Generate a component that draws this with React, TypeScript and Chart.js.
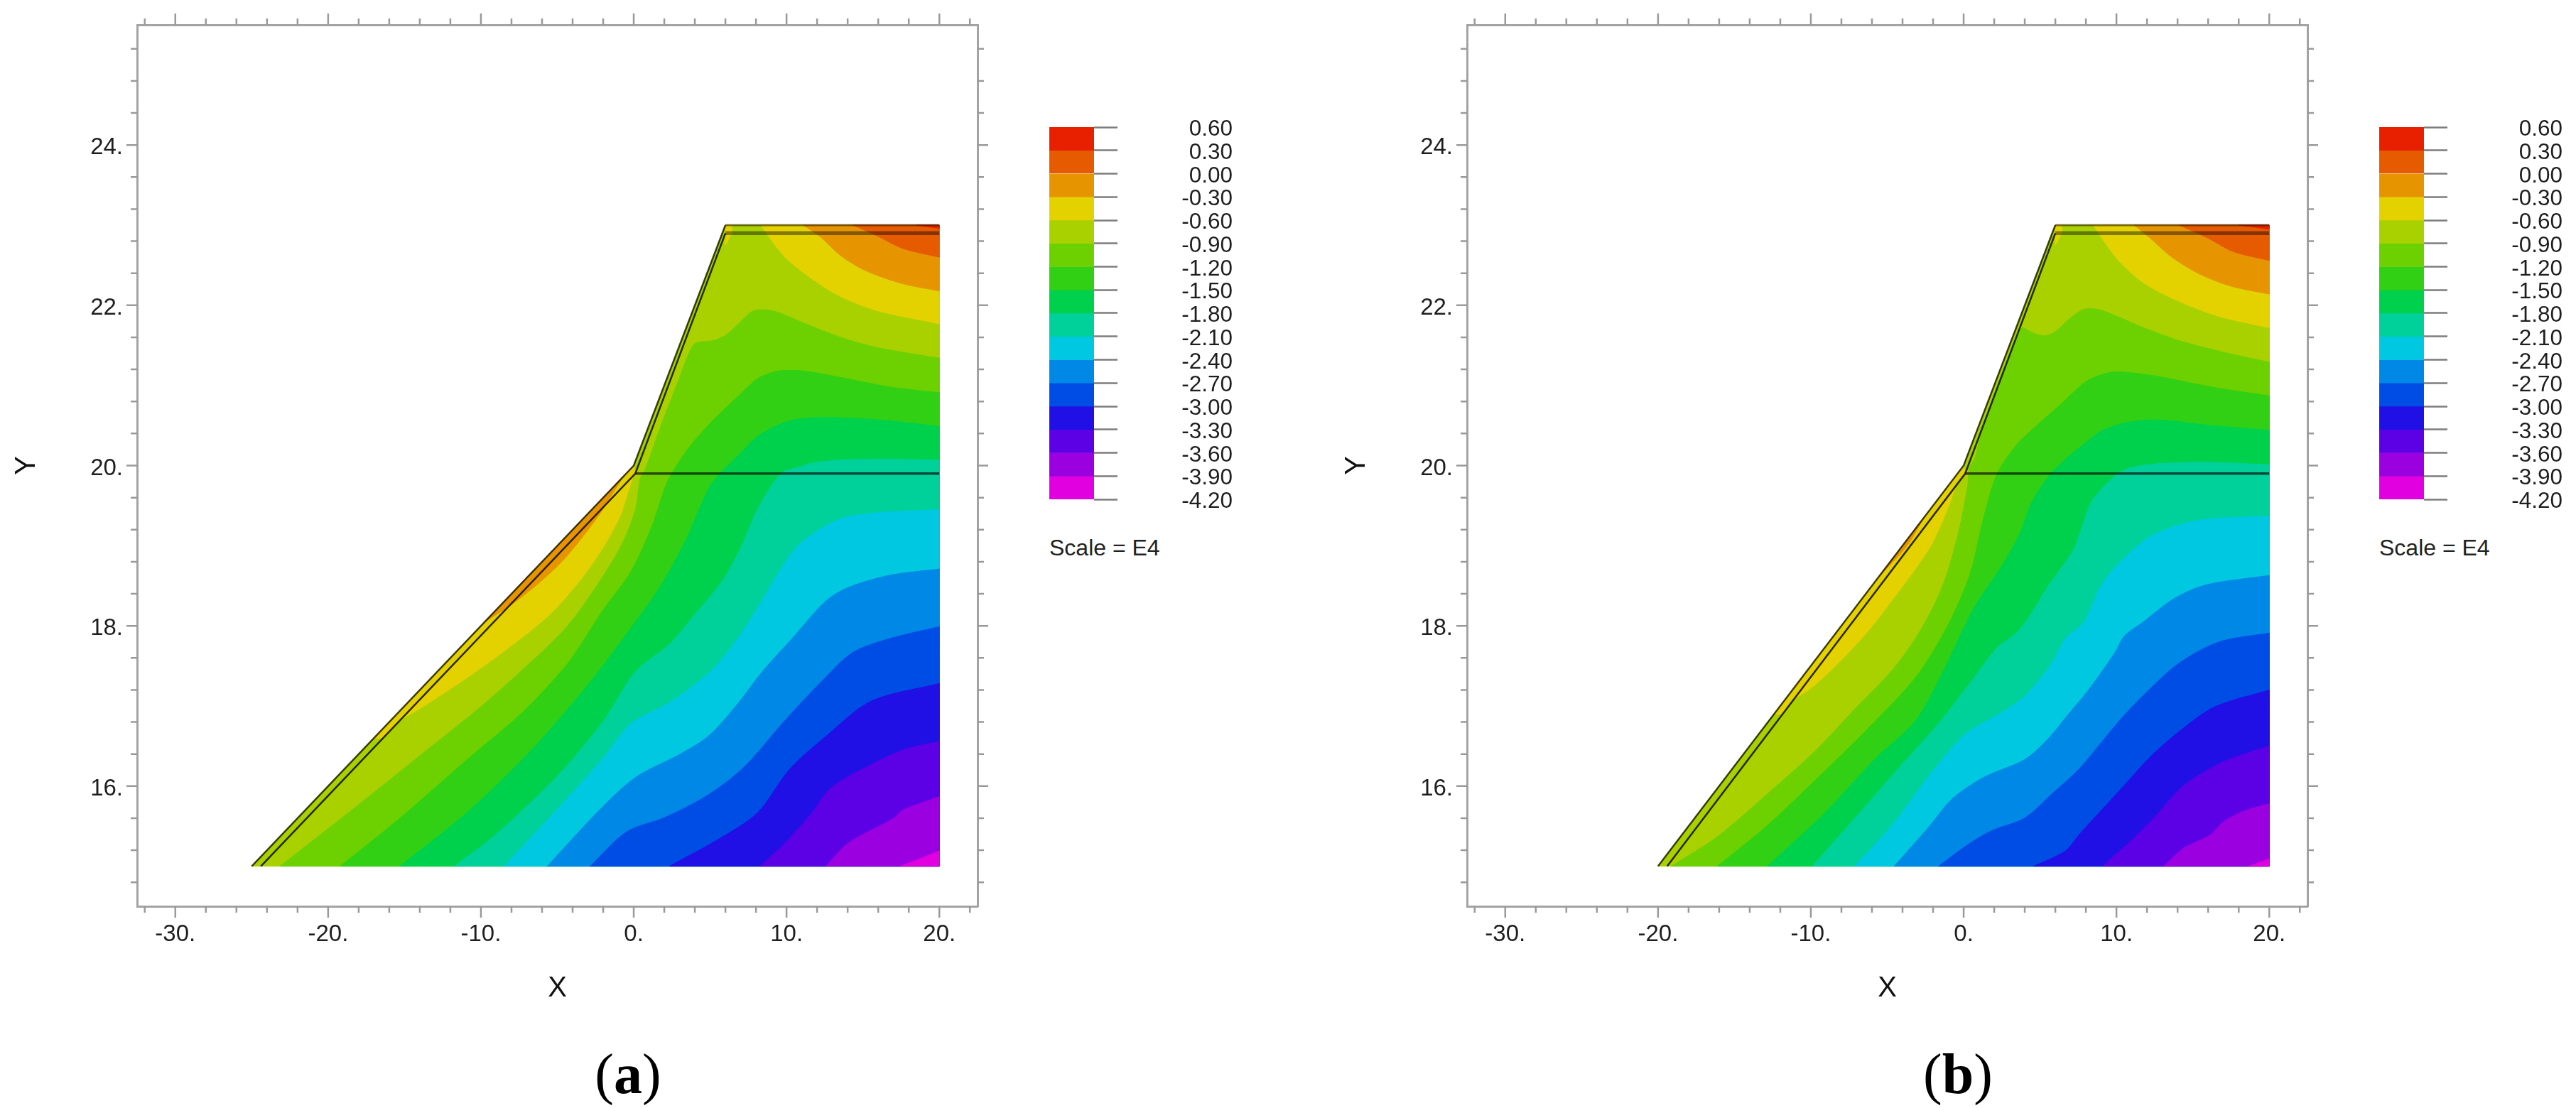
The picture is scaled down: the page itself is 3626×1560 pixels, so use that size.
import { useEffect, useRef } from "react"
import { Chart, registerables } from "chart.js"

Chart.register(...registerables)

type Pt = number[]

// axes
const xTicks = [-32, -30, -28, -26, -24, -22, -20, -18, -16, -14, -12, -10, -8, -6, -4, -2, 0, 2, 4, 6, 8, 10, 12, 14, 16, 18, 20, 22]
const xMajor = [-30, -20, -10, 0, 10, 20]
const yTicks = [14.8, 15.2, 15.6, 16, 16.4, 16.8, 17.2, 17.6, 18, 18.4, 18.8, 19.2, 19.6, 20, 20.4, 20.8, 21.2, 21.6, 22, 22.4, 22.8, 23.2, 23.6, 24, 24.4, 24.8, 25.2]
const yMajor = [16, 18, 20, 22, 24]

// legend
const levels = [0.6, 0.3, 0, -0.3, -0.6, -0.9, -1.2, -1.5, -1.8, -2.1, -2.4, -2.7, -3, -3.3, -3.6, -3.9, -4.2]
const bandColors = ["#e82000", "#e65a00", "#e69500", "#e4d200", "#a9d100", "#6dd000", "#32d014", "#00d14c", "#00d09a", "#00c8e0", "#0088e6", "#004de6", "#2010e6", "#5c00e6", "#9a00e0", "#e000e0"]

// panel (a) contours in x/y units
const aDomain: Pt[] = [[-25, 15], [0, 20], [6, 23], [20, 23], [20, 15]]
const aOuter: Pt[] = [[-25, 15], [0, 20], [6, 23]]
const aInner: Pt[] = [[-24.4, 15], [0.1, 19.9], [6, 22.9]]
const aStripYellow: Pt[] = [[-17, 16.6], [0, 20], [0.1, 19.9], [-16.4, 16.6]]
const aCrestYellow: Pt[] = [[6, 23], [6.4, 23], [6.4, 22.9], [6, 22.75]]
const aStripOrange: Pt[] = [[-10, 18], [-1, 19.8], [-0.9, 19.72], [-9.4, 18]]
const aSlopeYellow: Pt[] = [[-16.63, 16.67], [-13.82, 16.99], [-10.85, 17.36], [-7.89, 17.77], [-5.51, 18.14], [-3.59, 18.55], [-2.1, 18.95], [-0.92, 19.36], [-0.33, 19.7], [0, 19.9], [0, 20]]
const aSlopeOrange: Pt[] = [[-9.81, 18.04], [-7.89, 18.28], [-6.11, 18.55], [-4.62, 18.82], [-3.14, 19.16], [-2.1, 19.43], [-1.22, 19.7], [-0.6, 19.88]]
const aTop1: Pt[] = [[18.5, 23], [20, 22.96]]
const aTop2: Pt[] = [[14.36, 23], [16, 22.86], [17.6, 22.71], [20, 22.6]]
const aTop3: Pt[] = [[11.1, 23], [12.24, 22.85], [13.54, 22.62], [15.2, 22.43], [17.6, 22.27], [20, 22.18]]
const aTop4: Pt[] = [[8.33, 23], [8.98, 22.82], [9.96, 22.59], [11.59, 22.34], [13.54, 22.11], [16, 21.93], [20, 21.77]]
const aC5: Pt[] = [[20, 21.34], [16, 21.47], [13.54, 21.6], [11.1, 21.78], [9.14, 21.93], [7.83, 21.93], [6.86, 21.77], [6.04, 21.63], [5.22, 21.56], [4.08, 21.53], [3.67, 21.43], [2.94, 21.07], [1.8, 20.51], [0.74, 19.95], [0.42, 19.84], [0.12, 19.46], [-0.77, 19.02], [-2.25, 18.55], [-4.33, 18], [-7, 17.5], [-10.26, 16.95], [-13.8, 16.41], [-18.26, 15.73], [-23.15, 15]]
const aC6: Pt[] = [[20, 20.91], [16.8, 20.98], [13.54, 21.1], [11.1, 21.18], [9.46, 21.18], [8.16, 21.09], [6.86, 20.87], [5.06, 20.54], [3.59, 20.22], [2.45, 19.89], [2.05, 19.73], [1.16, 19.23], [-0.18, 18.68], [-1.96, 18.21], [-4.33, 17.53], [-7.29, 16.92], [-10.85, 16.34], [-15.3, 15.6], [-19.21, 15]]
const aC7: Pt[] = [[20, 20.49], [16, 20.57], [12.4, 20.6], [10.44, 20.57], [9.14, 20.48], [8, 20.35], [6.86, 20.13], [5.63, 19.9], [4.86, 19.7], [3.38, 19.06], [1.6, 18.45], [-0.47, 17.9], [-3.14, 17.23], [-6.7, 16.45], [-10.85, 15.68], [-15.3, 15]]
const aC8: Pt[] = [[20, 20.07], [14.7, 20.08], [11.9, 20.04], [10.8, 19.98], [9.63, 19.9], [8.12, 19.46], [6.94, 18.95], [5.75, 18.55], [3.68, 18.07], [2.34, 17.77], [0.12, 17.43], [-1.96, 16.82], [-4.92, 16.14], [-9.07, 15.39], [-11.74, 15]]
const aC9: Pt[] = [[20, 19.45], [15.83, 19.41], [13.46, 19.33], [11.09, 19.06], [9.9, 18.79], [7.83, 18.14], [6.64, 17.8], [5.01, 17.43], [2.49, 17.06], [-0.18, 16.78], [-1.96, 16.36], [-4.92, 15.73], [-8.48, 15]]
const aC10: Pt[] = [[20, 18.71], [16.72, 18.63], [14.05, 18.48], [12.57, 18.31], [10.35, 17.84], [8.42, 17.43], [6.64, 16.99], [4.86, 16.62], [2.94, 16.39], [0.12, 16.11], [-2.25, 15.7], [-5.66, 15]]
const aC11: Pt[] = [[20, 17.99], [16.72, 17.84], [14.35, 17.67], [12.57, 17.36], [9.9, 16.82], [7.23, 16.24], [4.86, 15.89], [2.05, 15.61], [-0.47, 15.43], [-2.85, 15]]
const aC12: Pt[] = [[20, 17.28], [15.54, 17.06], [12.57, 16.62], [10.2, 16.21], [8.12, 15.67], [5.75, 15.36], [2.34, 15]]
const aC13: Pt[] = [[20, 16.56], [17.61, 16.45], [14.94, 16.21], [12.87, 15.97], [11.68, 15.67], [9.9, 15.29], [8.27, 15]]
const aC14: Pt[] = [[20, 15.87], [17.61, 15.7], [17.02, 15.6], [14.05, 15.29], [12.57, 15]]
const aC15: Pt[] = [[20, 15.19], [17.46, 15]]

// panel (b) contours
const bDomain: Pt[] = [[-20, 15], [0, 20], [6, 23], [20, 23], [20, 15]]
const bOuter: Pt[] = [[-20, 15], [0, 20], [6, 23]]
const bInner: Pt[] = [[-19.4, 15], [0.1, 19.9], [6, 22.9]]
const bStripYellow: Pt[] = [[-12.4, 16.9], [0, 20], [0.1, 19.9], [-11.9, 16.9]]
const bCrestYellow: Pt[] = [[6, 23], [6.4, 23], [6.4, 22.9], [6, 22.75]]
const bStripOrange: Pt[] = [[-6, 18.5], [-2, 19.5], [-1.9, 19.42], [-5.6, 18.5]]
const bSlopeYellow: Pt[] = [[-12.17, 16.96], [-9.95, 17.23], [-7.87, 17.6], [-6.1, 17.97], [-4.61, 18.34], [-3.13, 18.72], [-2.09, 19.02], [-1.05, 19.46], [-0.46, 19.77], [-0.05, 19.94], [0, 20]]
const bSlopeOrange: Pt[] = [[-5.5, 18.62], [-3.7, 19], [-2.6, 19.35]]
const bTop1: Pt[] = [[18, 23], [20, 22.95]]
const bTop2: Pt[] = [[14.1, 23], [15.87, 22.85], [17.65, 22.67], [20, 22.56]]
const bTop3: Pt[] = [[11.16, 23], [12.14, 22.85], [13.56, 22.61], [15.34, 22.4], [17.47, 22.24], [20, 22.14]]
const bTop4: Pt[] = [[8.49, 23], [9.11, 22.82], [10.18, 22.55], [11.78, 22.28], [14.09, 22.05], [16.76, 21.86], [20, 21.72]]
const bC5: Pt[] = [[20, 21.29], [17.12, 21.41], [14.09, 21.56], [11.78, 21.72], [9.82, 21.88], [8.76, 21.95], [7.87, 21.95], [6.98, 21.84], [5.91, 21.66], [5.2, 21.62], [4.49, 21.66], [3.78, 21.71], [1.2, 20.45], [0.75, 20.1], [0.37, 19.97], [0.28, 19.77], [-0.31, 19.19], [-1.35, 18.51], [-2.84, 17.94], [-4.61, 17.46], [-6.98, 16.99], [-9.65, 16.45], [-12.62, 15.94], [-16.18, 15.36], [-19.14, 15]]
const bC6: Pt[] = [[20, 20.87], [16.23, 20.98], [12.49, 21.12], [10, 21.17], [8.93, 21.13], [7.87, 21.03], [6.44, 20.78], [4.66, 20.48], [3.42, 20.25], [2.17, 19.89], [1.32, 19.36], [0.42, 18.65], [-1.05, 18], [-3.13, 17.36], [-6.1, 16.75], [-9.35, 16.14], [-12.9, 15.5], [-16.12, 15]]
const bC7: Pt[] = [[20, 20.44], [16.23, 20.5], [12.67, 20.57], [10.71, 20.54], [9.11, 20.44], [7.87, 20.27], [6.62, 20.07], [5.65, 19.89], [4.43, 19.53], [3.69, 19.16], [2.5, 18.75], [0.72, 18.24], [-1.35, 17.43], [-3.13, 16.82], [-5.8, 16.34], [-9.06, 15.67], [-12.85, 15]]
const bC8: Pt[] = [[20, 20.01], [16.23, 20.04], [13.2, 20.03], [11.07, 19.98], [10.18, 19.91], [9.82, 19.86], [8.43, 19.57], [7.54, 19.12], [7.1, 18.92], [5.47, 18.48], [4.28, 18.11], [3.39, 17.9], [2.2, 17.73], [0.43, 17.29], [-1.65, 16.78], [-4.32, 16.21], [-6.98, 15.63], [-9.89, 15]]
const bC9: Pt[] = [[20, 19.37], [15.84, 19.33], [13.77, 19.24], [12, 19.09], [10.21, 18.79], [9.02, 18.51], [7.84, 18.04], [6.65, 17.84], [5.76, 17.53], [3.98, 17.12], [2.5, 16.92], [0.13, 16.65], [-1.94, 16.21], [-4.61, 15.53], [-7.13, 15]]
const bC10: Pt[] = [[20, 18.63], [15.84, 18.51], [13.77, 18.34], [11.69, 18.04], [10.5, 17.87], [9.91, 17.67], [8.13, 17.19], [6.95, 16.92], [5.47, 16.58], [3.98, 16.33], [1.32, 16.11], [-0.76, 15.84], [-2.24, 15.5], [-4.55, 15]]
const bC11: Pt[] = [[20, 17.91], [16.73, 17.8], [14.06, 17.53], [11.69, 17.12], [10.21, 16.82], [8.73, 16.48], [7.54, 16.21], [5.76, 15.9], [3.98, 15.6], [1.91, 15.45], [0.43, 15.29], [-1.65, 15]]
const bC12: Pt[] = [[20, 17.2], [16.44, 16.99], [14.36, 16.72], [12.29, 16.38], [10.8, 16.07], [9.02, 15.7], [7.54, 15.39], [6.65, 15.19], [4.58, 15]]
const bC13: Pt[] = [[20, 16.5], [18.51, 16.41], [16.73, 16.28], [14.36, 16], [12.58, 15.63], [10.8, 15.29], [9.08, 15]]
const bC14: Pt[] = [[20, 15.78], [18.51, 15.7], [17.03, 15.56], [16.14, 15.39], [14.36, 15.22], [13.09, 15]]
const bC15: Pt[] = [[20, 15.09], [18.66, 15]]

// the horizontal layer lines are the same in both panels
const layerLine: Pt[] = [[0.1, 19.9], [20, 19.9]]
const crestLine: Pt[] = [[6, 22.9], [20, 22.9]]
const topLine: Pt[] = [[6, 23], [20, 23]]

// ends and corners are doubled so the curve stays straight along the outline
const curve = (pts: Pt[]) => [pts[0], ...pts, pts[pts.length - 1]]
const under = (pts: Pt[]) => [...curve(pts), [20, 15], [20, 15]]
const over = (pts: Pt[]) => [...curve(pts), [20, 23], [20, 23]]
const toXY = (pts: Pt[]) => pts.map(([x, y]) => ({ x, y }))

// painted back to front: points, colour index, tension
const aBands: [Pt[], number, number][] = [
  [aDomain, 4, 0], [aStripYellow, 3, 0], [aCrestYellow, 3, 0], [aStripOrange, 2, 0], [curve(aSlopeYellow), 3, 0.3], [curve(aSlopeOrange), 2, 0.3],
  [over(aTop4), 3, 0.3], [over(aTop3), 2, 0.3], [over(aTop2), 1, 0.3], [over(aTop1), 0, 0],
  [under(aC5), 5, 0.3], [under(aC6), 6, 0.3], [under(aC7), 7, 0.3], [under(aC8), 8, 0.3], [under(aC9), 9, 0.3], [under(aC10), 10, 0.3],
  [under(aC11), 11, 0.3], [under(aC12), 12, 0.3], [under(aC13), 13, 0.3], [under(aC14), 14, 0.3], [under(aC15), 15, 0],
]
const bBands: [Pt[], number, number][] = [
  [bDomain, 4, 0], [bStripYellow, 3, 0], [bCrestYellow, 3, 0], [bStripOrange, 2, 0], [curve(bSlopeYellow), 3, 0.3], [curve(bSlopeOrange), 2, 0.3],
  [over(bTop4), 3, 0.3], [over(bTop3), 2, 0.3], [over(bTop2), 1, 0.3], [over(bTop1), 0, 0],
  [under(bC5), 5, 0.3], [under(bC6), 6, 0.3], [under(bC7), 7, 0.3], [under(bC8), 8, 0.3], [under(bC9), 9, 0.3], [under(bC10), 10, 0.3],
  [under(bC11), 11, 0.3], [under(bC12), 12, 0.3], [under(bC13), 13, 0.3], [under(bC14), 14, 0.3], [under(bC15), 15, 0],
]

const font = "'Liberation Sans', Arial, sans-serif"
const frameColor = "#a3a3a3"

// fixed axis box, and no extra inset from label overhang or tick padding
const fixBox = (axis: any, size: { width?: number; height?: number }) => {
  if (size.width !== undefined) axis.width = size.width
  if (size.height !== undefined) axis.height = size.height
  axis.paddingTop = 0
  axis.paddingBottom = 0
  axis.paddingLeft = 0
  axis.paddingRight = 0
}

// chart.js has one tick length per axis, the plot has two, and on all four sides
const frameTicks = {
  id: "frameTicks",
  beforeDatasetsDraw(chart: any) {
    const { ctx, chartArea, scales } = chart
    ctx.save()
    ctx.strokeStyle = "#9a9a9a"
    ctx.lineWidth = 2.5
    ctx.beginPath()
    for (const t of scales.x.ticks) {
      const px = scales.x.getPixelForValue(t.value)
      const len = xMajor.includes(t.value) ? 16 : 9
      ctx.moveTo(px, chartArea.top)
      ctx.lineTo(px, chartArea.top - len)
      ctx.moveTo(px, chartArea.bottom)
      ctx.lineTo(px, chartArea.bottom + len)
    }
    for (const t of scales.y.ticks) {
      const py = scales.y.getPixelForValue(t.value)
      const len = yMajor.includes(t.value) ? 15 : 9
      ctx.moveTo(chartArea.left, py)
      ctx.lineTo(chartArea.left - len, py)
      ctx.moveTo(chartArea.right, py)
      ctx.lineTo(chartArea.right + len, py)
    }
    ctx.stroke()
    ctx.restore()
  },
}

function ContourPanel({ left, bands, outer, inner }: { left: number; bands: [Pt[], number, number][]; outer: Pt[]; inner: Pt[] }) {
  const canvasRef = useRef<HTMLCanvasElement>(null)

  useEffect(() => {
    if (!canvasRef.current) return

    const filled = bands.map(([pts, colorIndex, tension], i) => ({
      data: toXY([...pts, pts[0]]),
      showLine: true,
      fill: "shape",
      tension,
      backgroundColor: bandColors[colorIndex],
      borderColor: bandColors[colorIndex],
      borderWidth: 1,
      pointRadius: 0,
      order: 100 - i,
    }))
    const line = (pts: Pt[], color: string, width: number) => ({
      data: toXY(pts),
      showLine: true,
      fill: false,
      borderColor: color,
      borderWidth: width,
      pointRadius: 0,
      order: 0,
    })

    const hidden = { display: false, drawTicks: false }
    const edge = { display: true, color: frameColor, width: 3 }

    const chart = new Chart(canvasRef.current, {
      type: "scatter",
      data: {
        datasets: [
          ...filled,
          line(outer, "rgba(20,20,0,0.8)", 2.5),
          line(inner, "rgba(10,10,0,0.85)", 2.5),
          line(layerLine, "rgba(0,0,0,0.65)", 3.5),
          line(crestLine, "rgba(0,0,0,0.42)", 5.5),
          line(topLine, "rgba(40,20,0,0.55)", 3),
        ] as any,
      },
      plugins: [frameTicks],
      options: {
        animation: false,
        responsive: false,
        devicePixelRatio: 1,
        events: [],
        layout: { autoPadding: false },
        plugins: { legend: { display: false }, tooltip: { enabled: false } },
        scales: {
          x: {
            type: "linear",
            position: "bottom",
            min: -32.5,
            max: 22.5,
            grid: hidden,
            border: edge,
            afterBuildTicks: (axis: any) => {
              axis.ticks = xTicks.map((value) => ({ value }))
            },
            afterFit: (axis: any) => fixBox(axis, { height: 144 }),
            ticks: {
              autoSkip: false,
              maxRotation: 0,
              padding: 20,
              color: "#1e1e1e",
              font: { family: font, size: 33 },
              callback: (v: any) => (xMajor.includes(v) ? `${v}.` : ""),
            },
            title: { display: true, text: "X", color: "#111", font: { family: font, size: 40 }, padding: { top: 0, bottom: 4 } },
          },
          xTop: {
            type: "linear",
            axis: "x",
            position: "top",
            min: -32.5,
            max: 22.5,
            grid: hidden,
            border: edge,
            ticks: { display: false },
            afterFit: (axis: any) => fixBox(axis, { height: 35 }),
          },
          y: {
            type: "linear",
            position: "left",
            min: 14.5,
            max: 25.5,
            grid: hidden,
            border: edge,
            afterBuildTicks: (axis: any) => {
              axis.ticks = yTicks.map((value) => ({ value }))
            },
            afterFit: (axis: any) => fixBox(axis, { width: 193 }),
            ticks: {
              autoSkip: false,
              padding: 20,
              labelOffset: 4,
              color: "#1e1e1e",
              font: { family: font, size: 33 },
              callback: (v: any) => (yMajor.includes(v) ? `${v}.` : ""),
            },
            title: { display: true, text: "Y", color: "#111", font: { family: font, size: 40 }, padding: { top: 14, bottom: 0 } },
          },
          yRight: {
            type: "linear",
            axis: "y",
            position: "right",
            min: 14.5,
            max: 25.5,
            grid: hidden,
            border: edge,
            ticks: { display: false },
            afterFit: (axis: any) => fixBox(axis, { width: 44 }),
          },
        },
      } as any,
    })

    return () => {
      chart.destroy()
    }
  }, [bands, outer, inner])

  return <canvas ref={canvasRef} width={1420} height={1420} style={{ position: "absolute", left, top: 0 }} />
}

function ColorBar({ left }: { left: number }) {
  const canvasRef = useRef<HTMLCanvasElement>(null)

  useEffect(() => {
    if (!canvasRef.current) return

    const chart = new Chart(canvasRef.current, {
      type: "bar",
      data: {
        labels: ["scale"],
        datasets: bandColors.map((color, i) => ({
          data: [[levels[i + 1], levels[i]]],
          backgroundColor: color,
          barPercentage: 1,
          categoryPercentage: 1,
          grouped: false,
        })),
      } as any,
      options: {
        animation: false,
        responsive: false,
        devicePixelRatio: 1,
        events: [],
        layout: { autoPadding: false, padding: { left: 7, top: 29, bottom: 37, right: 0 } },
        plugins: { legend: { display: false }, tooltip: { enabled: false } },
        scales: {
          x: { display: false },
          y: {
            type: "linear",
            position: "right",
            min: -4.2,
            max: 0.6,
            border: { display: false },
            grid: { drawOnChartArea: false, drawTicks: true, tickLength: 33, tickColor: "#7d7d7d", tickWidth: 2.5 },
            afterBuildTicks: (axis: any) => {
              axis.ticks = levels.map((value) => ({ value }))
            },
            afterFit: (axis: any) => fixBox(axis, { width: 195 }),
            ticks: {
              autoSkip: false,
              padding: 10,
              labelOffset: 3.5,
              crossAlign: "far",
              color: "#1e1e1e",
              font: { family: font, size: 31.5 },
              callback: (v: any) => Number(v).toFixed(2),
            },
          },
        },
      } as any,
    })

    return () => {
      chart.destroy()
    }
  }, [])

  return <canvas ref={canvasRef} width={265} height={590} style={{ position: "absolute", left, top: 150 }} />
}

function ScaleNote({ left }: { left: number }) {
  return (
    <div style={{ position: "absolute", left, top: 751, font: `32px/40px ${font}`, color: "#222", whiteSpace: "nowrap" }}>Scale = E4</div>
  )
}

function PanelLabel({ center, letter }: { center: number; letter: string }) {
  return (
    <div
      style={{
        position: "absolute",
        left: center - 100,
        width: 200,
        top: 1462,
        textAlign: "center",
        font: "80px/100px 'Liberation Serif', serif",
        color: "#000",
      }}
    >
      (<b>{letter}</b>)
    </div>
  )
}

export default function App() {
  return (
    <div style={{ position: "absolute", left: 0, top: 0, width: 3626, height: 1560, background: "#fff", overflow: "hidden" }}>
      <ContourPanel left={0} bands={aBands} outer={aOuter} inner={aInner} />
      <ColorBar left={1470} />
      <ScaleNote left={1477} />
      <PanelLabel center={884} letter="a" />
      <ContourPanel left={1872} bands={bBands} outer={bOuter} inner={bInner} />
      <ColorBar left={3342} />
      <ScaleNote left={3349} />
      <PanelLabel center={2756} letter="b" />
    </div>
  )
}
